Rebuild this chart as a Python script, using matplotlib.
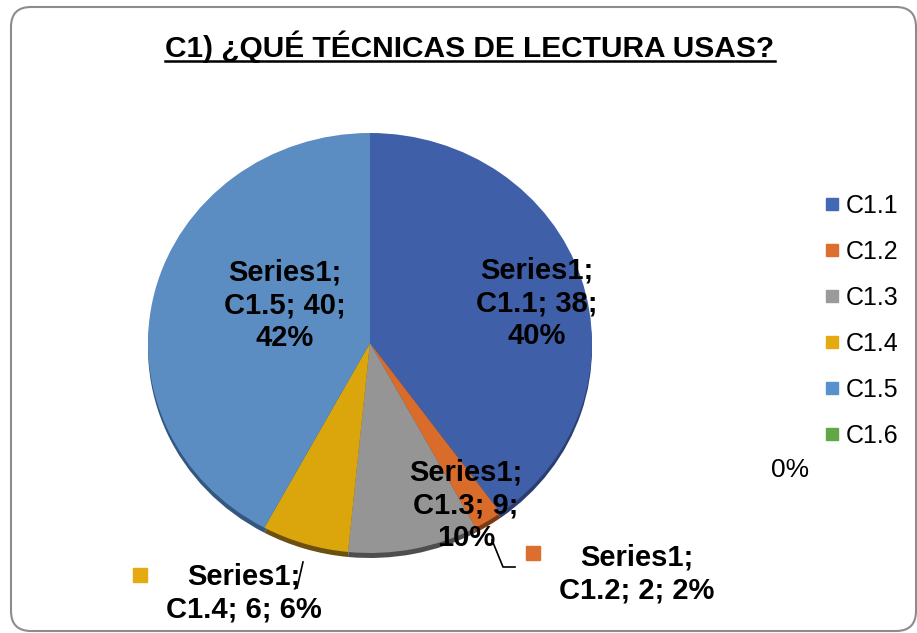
import numpy as np
import matplotlib.pyplot as plt
from matplotlib.lines import Line2D
from matplotlib.patches import FancyBboxPatch
from matplotlib.transforms import IdentityTransform

# datos del grafico
categorias = ['C1.1', 'C1.2', 'C1.3', 'C1.4', 'C1.5', 'C1.6']
valores = [38, 2, 9, 6, 40, 0]
porcentajes = ['40%', '2%', '10%', '6%', '42%', '0%']
serie = 'Series1'
titulo = 'C1) ¿QUÉ TÉCNICAS DE LECTURA USAS?'

colores = ['#3F5FA8', '#D96B2B', '#959595', '#DBA50C', '#5B8DC2', '#5E9E3F']
sombras = ['#2A3F70', '#7A3A14', '#4E4E4E', '#6B5010', '#34577F', '#355A22']
leyenda_col = ['#4169B4', '#DD6F2E', '#9A9A9A', '#E5AA10', '#5892CC', '#63A645']

plt.rcParams['font.family'] = ['Liberation Sans', 'DejaVu Sans']

W, H = 917, 633
CX, CY, RX, RY = 370, 343, 222, 210  # centro y radios del pastel (pixeles)

def px(x, y):
    # pixel (desde arriba) -> coordenadas de datos
    return (x - CX) / RX, (CY - y) / RY

fig = plt.figure(figsize=(W / 100, H / 100), dpi=100)
ax = fig.add_axes([0, 0, 1, 1])

# borde 3D: pastel oscuro desplazado hacia abajo
ax.pie(valores, colors=sombras, startangle=90, counterclock=False,
       center=(0, -5 / RY), wedgeprops=dict(linewidth=0))
wedges, _ = ax.pie(valores, colors=colores, startangle=90, counterclock=False,
                   wedgeprops=dict(linewidth=0))
ax.set_aspect('auto')
ax.set_xlim(-CX / RX, (W - CX) / RX)
ax.set_ylim((CY - H) / RY, CY / RY)
ax.axis('off')

# etiquetas de datos
pos_etq = {0: (537, 303), 1: (637, 574), 2: (466, 505), 3: (244, 593), 4: (285, 305)}
for i, (p, q) in pos_etq.items():
    if i in (1, 3):
        txt = f'{serie};\n{categorias[i]}; {valores[i]}; {porcentajes[i]}'
    else:
        txt = f'{serie};\n{categorias[i]}; {valores[i]};\n{porcentajes[i]}'
    ax.text(*px(p, q), txt, ha='center', va='center', fontsize=21,
            fontweight='bold', linespacing=1.22, zorder=5)

# marcadores de leyenda en etiquetas externas
ax.plot(*px(533, 553), marker='s', ms=10, color=leyenda_col[1], ls='none')
ax.plot(*px(140, 575), marker='s', ms=10, color=leyenda_col[3], ls='none')

# lineas guia
l1 = np.array([px(492, 540), px(503, 567), px(515, 567)])
ax.plot(l1[:, 0], l1[:, 1], color='black', lw=1.2, zorder=6)
l2 = np.array([px(303, 562), px(297, 588)])
ax.plot(l2[:, 0], l2[:, 1], color='black', lw=1.2, zorder=6)

# etiqueta de C1.6
ax.text(*px(790, 470), porcentajes[5], ha='center', va='center', fontsize=19)

# titulo subrayado
t = fig.text(470 / W, 1 - 57 / H, titulo, ha='center', va='baseline',
             fontsize=21.5, fontweight='bold')
fig.canvas.draw()
bb = t.get_window_extent()
fig.add_artist(Line2D([bb.x0, bb.x1], [H - 61, H - 61], color='black', lw=1.8,
                      transform=IdentityTransform()))

# leyenda
handles = [Line2D([], [], marker='s', ms=9, ls='none', color=c) for c in leyenda_col]
fig.legend(handles, categorias, loc='center left', bbox_to_anchor=(812 / W, 1 - 321 / H),
           frameon=False, fontsize=18, handlelength=0.6, handletextpad=0.25,
           labelspacing=0.88, borderpad=0)

# marco redondeado
fig.add_artist(FancyBboxPatch((11, 2), 905, 624, boxstyle='round,pad=0,rounding_size=20',
                              facecolor='none', edgecolor='#8C8C8C', lw=1.5,
                              transform=IdentityTransform()))

fig.savefig('out.png', dpi=100)
